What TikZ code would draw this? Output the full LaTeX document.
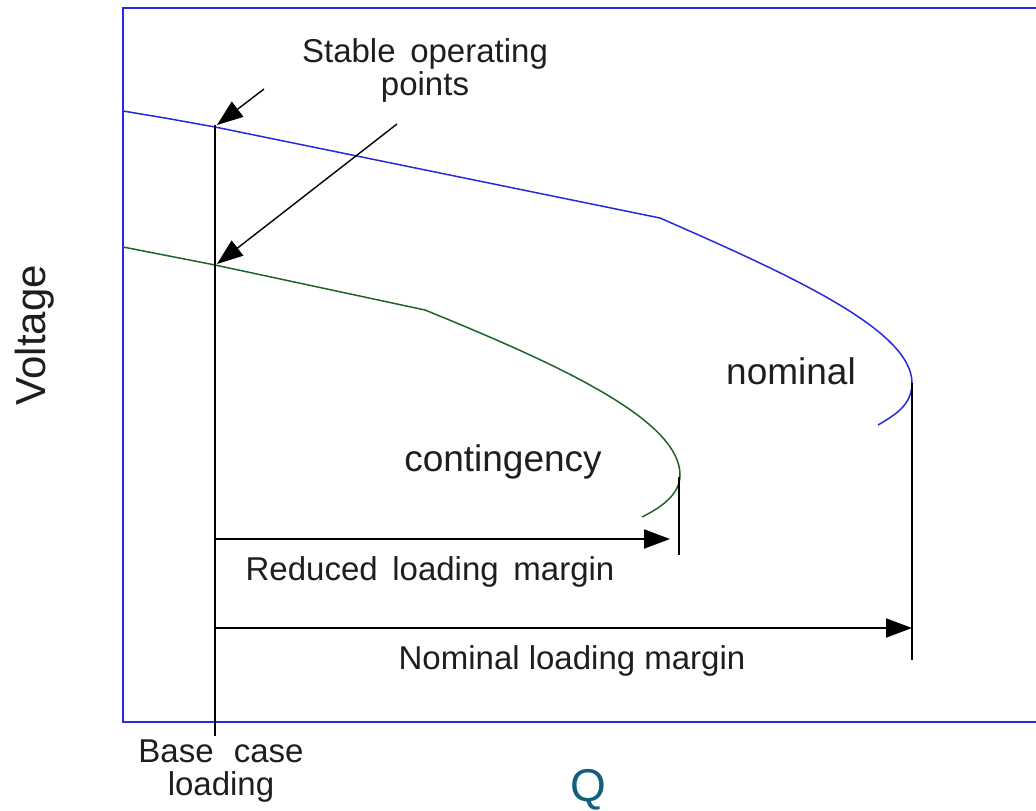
\documentclass[tikz,border=0pt]{standalone}
\usepackage{fontspec}
\setmainfont{Liberation Sans}
\usetikzlibrary{arrows.meta}
\definecolor{frameblue}{RGB}{40,40,230}
\definecolor{curveblue}{RGB}{40,40,220}
\definecolor{curvegreen}{RGB}{30,100,40}
\definecolor{qteal}{RGB}{20,95,125}
\definecolor{txt}{RGB}{30,30,30}
\begin{document}
\begin{tikzpicture}[x=1pt,y=-1pt,
  lbl/.style={text=txt,inner sep=0pt,font=\fontsize{33}{33}\selectfont,align=center},
  big/.style={text=txt,inner sep=0pt,font=\fontsize{37}{40}\selectfont},
  blk/.style={draw=black,line width=2pt},
  tip/.style={-{Triangle[length=26pt,width=19pt]}},
  thin/.style={draw=black,line width=1.4pt}]
\useasboundingbox (0,0) rectangle (1036,811);
\begin{scope}
\clip (0,0) rectangle (1036,811);
\draw[frameblue,line width=2.2pt] (123,8) rectangle (1045,722);
\end{scope}
% named coordinates
\coordinate (b0) at (215,125);
\coordinate (b1) at (215,736);
\coordinate (sp1) at (215,127);
\coordinate (sp2) at (215,265);
\coordinate (nv) at (912,383);
\coordinate (nvb) at (912,660);
\coordinate (cv) at (679,477);
\coordinate (cvb) at (679,555);
\coordinate (ra) at (215,539);
\coordinate (rb) at (670,539);
\coordinate (na) at (215,628);
\coordinate (nb) at (912,628);
\coordinate (a1s) at (264,89);
\coordinate (a2s) at (397,124);
% curves
\draw[curveblue,line width=1.5pt] (123,111) -- (165,118) -- (sp1) -- (660,218)
  .. controls (790,275) and (912,330) .. (nv)
  .. controls (912,405) and (895,415) .. (878,425);
\draw[curvegreen,line width=1.5pt] (123,247) -- (sp2) -- (425,310)
  .. controls (560,365) and (680,420) .. (680,475)
  .. controls (680,495) and (660,508) .. (642,517);
% base line and verticals
\draw[blk] (b0) -- (b1);
\draw[blk] (cv) -- (cvb);
\draw[blk] (nv) -- (nvb);
% margin arrows
\draw[blk,tip] (ra) -- (rb);
\draw[blk,tip] (na) -- (nb);
% pointer arrows
\draw[thin,tip] (a1s) -- (217,125);
\draw[thin,tip] (a2s) -- (217,264);
% labels
\node[lbl] (stable) at (425,70) {Stable\,\ operating\\points};
\node[big] (nom) at (791,371) {nominal};
\node[big] (cont) at (503,462) {contingency};
\node[lbl] (red) at (430,572) {Reduced\,\ loading\,\ margin};
\node[lbl] (noml) at (572,661) {Nominal loading margin};
\node[lbl] (base) at (221,771) {Base\,\,\ case\\loading};
\node[text=txt,inner sep=0pt,font=\fontsize{42}{44}\selectfont,rotate=90] (volt) at (35,335) {Voltage};
\node[text=qteal,inner sep=0pt,font=\fontsize{46}{48}\selectfont] (q) at (588,790) {Q};
\end{tikzpicture}
\end{document}
